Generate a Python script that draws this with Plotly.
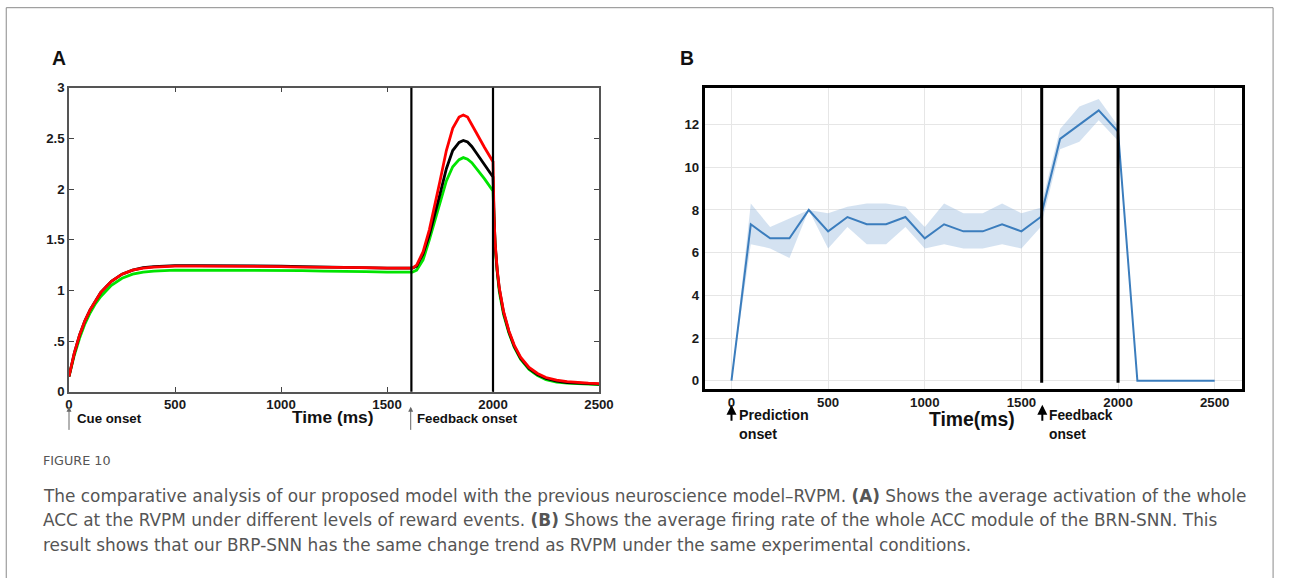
import plotly.graph_objects as go

W, H = 1290, 578

# ---------------- Panel A data (RVPM) ----------------
tA = [0, 10, 25, 50, 75, 100, 125, 150, 200, 250, 300, 350, 400, 500, 600, 700, 800, 900,
      1000, 1100, 1200, 1300, 1400, 1500, 1600, 1620, 1640, 1670, 1700, 1720, 1750, 1780,
      1810, 1840, 1860, 1880, 1900, 1920, 1960, 2000, 2005, 2010, 2020, 2030, 2050, 2075,
      2100, 2130, 2170, 2210, 2250, 2300, 2350, 2400, 2450, 2500]
red_A = [0.15, 0.25, 0.38, 0.56, 0.70, 0.81, 0.90, 0.98, 1.09, 1.16, 1.20, 1.22, 1.23, 1.24,
         1.24, 1.24, 1.24, 1.24, 1.235, 1.23, 1.23, 1.225, 1.225, 1.22, 1.22, 1.22, 1.25,
         1.38, 1.60, 1.78, 2.08, 2.38, 2.60, 2.71, 2.73, 2.71, 2.64, 2.56, 2.41, 2.27, 1.72,
         1.47, 1.20, 1.02, 0.79, 0.60, 0.46, 0.34, 0.24, 0.18, 0.14, 0.115, 0.10, 0.09,
         0.085, 0.08]
black_A = [0.15, 0.25, 0.38, 0.56, 0.70, 0.81, 0.90, 0.98, 1.09, 1.16, 1.20, 1.225, 1.235,
           1.245, 1.245, 1.245, 1.245, 1.245, 1.24, 1.235, 1.23, 1.225, 1.225, 1.22, 1.22,
           1.22, 1.24, 1.36, 1.55, 1.70, 1.95, 2.20, 2.38, 2.46, 2.48, 2.465, 2.42, 2.36,
           2.24, 2.12, 1.72, 1.46, 1.19, 1.01, 0.78, 0.59, 0.45, 0.33, 0.23, 0.17, 0.13,
           0.105, 0.09, 0.085, 0.08, 0.075]
green_A = [0.15, 0.24, 0.36, 0.53, 0.67, 0.78, 0.87, 0.94, 1.05, 1.12, 1.16, 1.18, 1.19,
           1.20, 1.20, 1.20, 1.20, 1.20, 1.20, 1.195, 1.19, 1.19, 1.185, 1.18, 1.18, 1.18,
           1.20, 1.30, 1.50, 1.64, 1.86, 2.08, 2.22, 2.29, 2.31, 2.295, 2.26, 2.21, 2.10,
           1.98, 1.70, 1.43, 1.18, 0.98, 0.76, 0.58, 0.44, 0.32, 0.22, 0.16, 0.12, 0.095,
           0.085, 0.08, 0.075, 0.07]
a_xticks = [0, 500, 1000, 1500, 2000, 2500]
a_yticks = [0, 0.5, 1, 1.5, 2, 2.5, 3]
a_yticktext = ["0", ".5", "1", "1.5", "2", "2.5", "3"]
a_vlines = [1615, 2000]

# ---------------- Panel B data (BRP-SNN) ----------------
tB = [0, 100, 200, 300, 400, 500, 600, 700, 800, 900, 1000, 1100, 1200, 1300, 1400, 1500,
      1600, 1700, 1800, 1900, 2000, 2100, 2200, 2300, 2400, 2500]
rate_B = [0, 7.33, 6.67, 6.67, 8.0, 7.0, 7.67, 7.33, 7.33, 7.67, 6.67, 7.33, 7.0, 7.0, 7.33,
          7.0, 7.67, 11.33, 12.0, 12.67, 11.67, 0, 0, 0, 0, 0]
upper_B = [0, 8.3, 7.2, 7.6, 8.0, 7.85, 8.15, 8.3, 8.3, 8.15, 7.2, 8.3, 7.85, 7.85, 8.3,
           7.85, 8.1, 11.8, 12.85, 13.2, 11.95, 0, 0, 0, 0, 0]
lower_B = [0, 6.4, 6.2, 5.75, 8.0, 6.2, 7.2, 6.4, 6.4, 7.2, 6.2, 6.4, 6.2, 6.2, 6.4, 6.2,
           7.2, 10.85, 11.2, 12.2, 11.25, 0, 0, 0, 0, 0]
b_xticks = [0, 500, 1000, 1500, 2000, 2500]
b_yticks = [0, 2, 4, 6, 8, 10, 12]
b_vlines = [1605, 2000]

caption_title = "FIGURE 10"
caption_lines = [
    "The comparative analysis of our proposed model with the previous neuroscience model\u2013RVPM. <b>(A)</b> Shows the average activation of the whole",
    "ACC at the RVPM under different levels of reward events. <b>(B)</b> Shows the average firing rate of the whole ACC module of the BRN-SNN. This",
    "result shows that our BRP-SNN has the same change trend as RVPM under the same experimental conditions.",
]

# observed mapping of the renderer (figure px -> picture px): compensate for it
SX, OX, SY, OY = 0.989, 2.75, 0.974, 6.3
FS = 1.02


def px(x):
    return min(1.0, max(0.0, (x - OX) / SX / W))


def py(y):
    return 1 - (y - OY) / SY / H


def f(s):
    return s * FS


fig = go.Figure()

for ys, col in [(green_A, "#00e400"), (black_A, "#000000"), (red_A, "#ff0000")]:
    fig.add_trace(go.Scatter(x=tA, y=ys, mode="lines", line=dict(color=col, width=2.8),
                             xaxis="x", yaxis="y", showlegend=False, hoverinfo="skip"))

fig.add_trace(go.Scatter(x=tB, y=upper_B, mode="lines", line=dict(width=0),
                         xaxis="x2", yaxis="y2", showlegend=False, hoverinfo="skip"))
fig.add_trace(go.Scatter(x=tB, y=lower_B, mode="lines", line=dict(width=0), fill="tonexty",
                         fillcolor="rgba(120,165,210,0.32)", xaxis="x2", yaxis="y2",
                         showlegend=False, hoverinfo="skip"))
fig.add_trace(go.Scatter(x=tB, y=rate_B, mode="lines", line=dict(color="#3b7dbd", width=2),
                         xaxis="x2", yaxis="y2", showlegend=False))

tickfont = dict(family="Liberation Sans, Arial", size=f(13), color="#1a1a1a", weight="bold")

fig.update_layout(
    width=W, height=H, margin=dict(l=0, r=0, t=0, b=0),
    paper_bgcolor="white", plot_bgcolor="white",
    xaxis=dict(domain=[px(68), px(600)], range=[0, 2500], tickvals=a_xticks,
               ticks="inside", ticklen=5, tickcolor="#444", showline=True, linecolor="#555",
               linewidth=1.5, mirror="ticks", showgrid=False, zeroline=False,
               tickfont=tickfont, anchor="y"),
    yaxis=dict(domain=[py(391), py(87)], range=[0, 3], tickvals=a_yticks,
               ticktext=a_yticktext, ticks="inside", ticklen=5, tickcolor="#444",
               showline=True, linecolor="#555", linewidth=1.5, mirror="ticks",
               showgrid=False, zeroline=False, tickfont=tickfont, anchor="x"),
    xaxis2=dict(domain=[px(706), px(1245)], range=[-139, 2639], tickvals=b_xticks,
                showline=True, linecolor="black", linewidth=2.5, mirror=True,
                showgrid=True, gridcolor="#e6e6e6", gridwidth=1, zeroline=False,
                ticks="", tickfont=tickfont, anchor="y2"),
    yaxis2=dict(domain=[py(388), py(87)], range=[-0.375, 13.73], tickvals=b_yticks,
                showline=True, linecolor="black", linewidth=2.5, mirror=True,
                showgrid=True, gridcolor="#e6e6e6", gridwidth=1, zeroline=False,
                ticks="", tickfont=tickfont, anchor="x2"),
)

shapes = []
for v in a_vlines:
    shapes.append(dict(type="line", xref="x", yref="y domain", x0=v, x1=v, y0=0, y1=1,
                       line=dict(color="black", width=2.2)))
for v in b_vlines:
    shapes.append(dict(type="line", xref="x2", yref="y2 domain", x0=v, x1=v, y0=0.02, y1=1,
                       line=dict(color="black", width=3)))
shapes.append(dict(type="rect", xref="paper", yref="paper", x0=px(5), x1=0.9985,
                   y0=-0.1, y1=py(7), line=dict(color="#8a8a8a", width=1)))
fig.update_layout(shapes=shapes)

ann = []


def txt(x, y, s, size, xanchor="left", color="#111", weight="bold", family="Liberation Sans, Arial"):
    ann.append(dict(xref="paper", yref="paper", x=px(x), y=py(y), text=s, showarrow=False,
                    xanchor=xanchor, yanchor="middle",
                    font=dict(family=family, size=f(size), color=color, weight=weight)))


txt(49, 57, "A", 19)
txt(679, 57, "B", 19)
txt(333, 416, "Time (ms)", 17, xanchor="center")
txt(74, 418, "Cue onset", 13)
txt(415, 418, "Feedback onset", 13)
txt(974, 418, "Time(ms)", 19, xanchor="center")
txt(739, 414, "Prediction", 14)
txt(739, 433, "onset", 14)
txt(1050, 415, "Feedback", 13.5)
txt(1050, 434, "onset", 13.5)


def arrow(x, ytail, yhead, color, width):
    ann.append(dict(xref="paper", yref="paper", axref="pixel", ayref="pixel",
                    x=px(x), y=py(yhead), ax=0, ay=(ytail - yhead) / SY, text="",
                    showarrow=True, arrowhead=2, arrowsize=1, arrowwidth=width,
                    arrowcolor=color))


arrow(68, 430, 406, "#666", 1)
arrow(411, 430, 406, "#666", 1)
arrow(733, 421, 404, "black", 2)
arrow(1045, 421, 404, "black", 2)

capfont = "DejaVu Sans, Noto Sans"
ann.append(dict(xref="paper", yref="paper", x=px(40), y=py(460), text=caption_title,
                showarrow=False, xanchor="left", yanchor="middle",
                font=dict(family=capfont, size=f(12.5), color="#555")))
for i, line in enumerate(caption_lines):
    ann.append(dict(xref="paper", yref="paper", x=px(40), y=py(495 + 24.5 * i), text=line,
                    showarrow=False, xanchor="left", yanchor="middle",
                    font=dict(family=capfont, size=16.9, color="#555")))

fig.update_layout(annotations=ann)
fig.write_html(
    "out.html",
    config={"displayModeBar": False},
    post_script=("document.documentElement.style.overflow='hidden';"
                 "document.body.style.overflow='hidden';"
                 "document.body.style.margin='0';"),
)
